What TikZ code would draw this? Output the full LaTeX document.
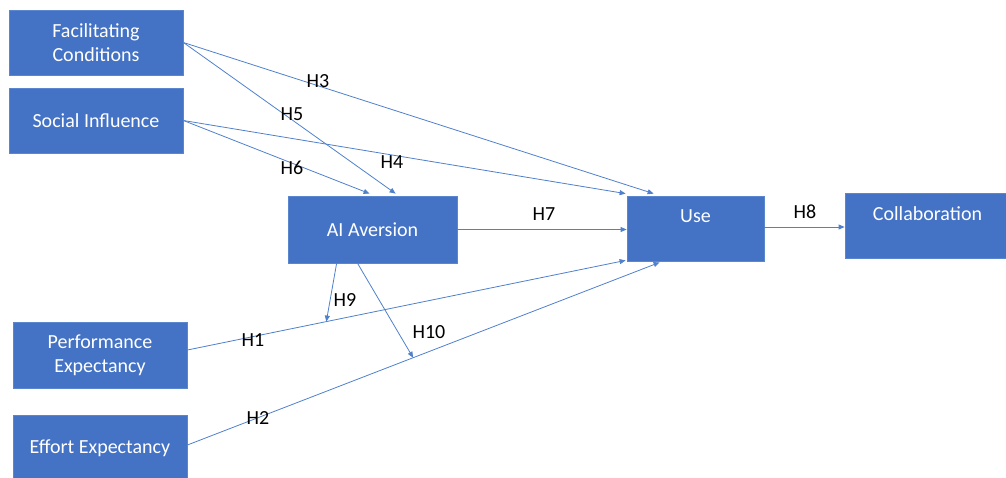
\documentclass[tikz,border=0pt]{standalone}
\usepackage{fontspec}
\setmainfont{Carlito}
\usetikzlibrary{arrows.meta,calc}
\definecolor{boxblue}{HTML}{4472C4}
\definecolor{boxedge}{HTML}{5A86D0}
\definecolor{linkblue}{HTML}{5080CC}
\tikzset{
  construct/.style={draw=boxedge, line width=0.8pt, fill=boxblue, text=white,
    font=\fontsize{20}{24}\selectfont, align=center, inner sep=0pt},
  uppertext/.style={text depth=24pt},
  link/.style={draw=linkblue, line width=0.8pt,
    -{Triangle[length=6pt,width=5pt]}},
  hyp/.style={font=\fontsize{20}{24}\selectfont, text=black, inner sep=1pt}
}
\begin{document}
\begin{tikzpicture}[x=1pt,y=-1pt]
\useasboundingbox (0,0) rectangle (1006,477);

% constructs
\node[construct, minimum width=174pt, minimum height=65pt] (fc) at (96,42.5) {Facilitating\\Conditions};
\node[construct, minimum width=174pt, minimum height=65pt] (si) at (96,120.5) {Social Influence};
\node[construct, minimum width=169pt, minimum height=67pt] (ai) at (372.5,229.5) {AI Aversion};
\node[construct, uppertext, minimum width=137pt, minimum height=65pt] (use) at (695.5,228.5) {Use};
\node[construct, uppertext, minimum width=165pt, minimum height=65pt] (col) at (927.5,225.5) {Collaboration};
\node[construct, minimum width=174pt, minimum height=66pt] (pe) at (100,355) {Performance\\Expectancy};
\node[construct, minimum width=174pt, minimum height=66pt] (ee) at (100,448) {Effort Expectancy};

% paths into Use and AI Aversion
\draw[link] (fc.east) -- ($(use.north west)+(27,-2)$);
\draw[link] (fc.east) -- ($(ai.north west)+(108,-2)$);
\draw[link] (si.east) -- ($(ai.north west)+(82,-2)$);
\draw[link] (si.east) -- ($(use.north west)+(-1,-2)$);
\draw[link] (ai.east) -- (use.west |- ai.east);
\draw[link] (use.east |- col.west) ++(0,1.5) coordinate (u8) -- (col.west |- u8);
\draw[link] ($(pe.east)+(0,-5)$) -- coordinate[pos=0.317] (h9e) ($(use.south west)+(-1,-1)$);
\draw[link] ($(ee.east)+(0,-3)$) -- coordinate[pos=0.478] (h10e) ($(use.south west)+(33,1)$);

% moderating paths
\draw[link] ($(ai.south west)+(49,0)$) -- (h9e);
\draw[link] ($(ai.south west)+(70,0)$) -- (h10e);

% hypothesis labels
\node[hyp] (l3) at (318,81) {H3};
\node[hyp] (l5) at (292,114) {H5};
\node[hyp] (l6) at (292,168) {H6};
\node[hyp] (l4) at (392,162) {H4};
\node[hyp] (l7) at (544,214) {H7};
\node[hyp] (l8) at (805,212) {H8};
\node[hyp] (l9) at (345,300) {H9};
\node[hyp] (l10) at (429,332) {H10};
\node[hyp] (l1) at (253,340) {H1};
\node[hyp] (l2) at (258,418) {H2};
\end{tikzpicture}
\end{document}
